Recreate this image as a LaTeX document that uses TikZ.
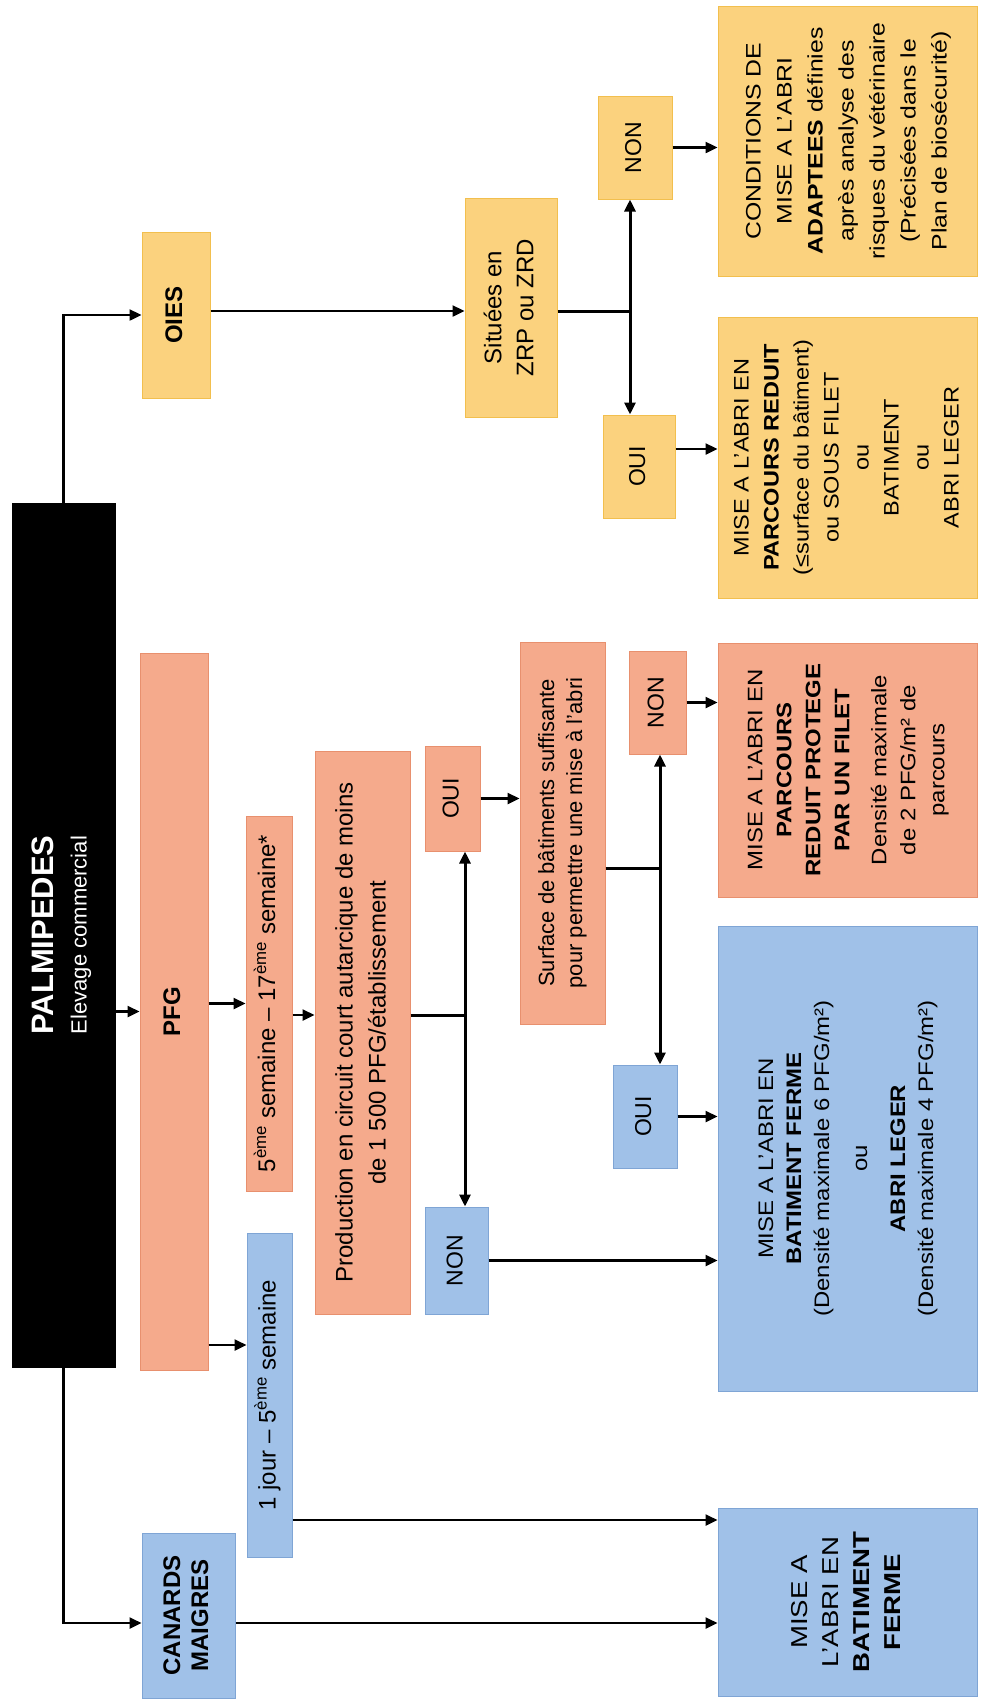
\documentclass[tikz,border=0pt]{standalone}
\usepackage{fontspec}
\setmainfont{Liberation Sans}
\usepackage{graphicx}
\usetikzlibrary{arrows.meta}
\definecolor{yf}{HTML}{FBD27E}
\definecolor{yd}{HTML}{F2BF4E}
\definecolor{of}{HTML}{F5AA8C}
\definecolor{od}{HTML}{E8906E}
\definecolor{bf}{HTML}{A0C1E8}
\definecolor{bd}{HTML}{7FA5D5}
\newcommand{\vt}[3][1]{\rotatebox{90}{\scalebox{#1}[1]{#2\begin{tabular}{@{}c@{}}#3\end{tabular}}}}
\newcommand{\bx}[7]{\node[#6, minimum width={(#4-#2)*1pt}, minimum height={(#5-#3)*1pt}] (#1) at ({(#2+#4)/2},{(#3+#5)/2}) {#7};}
\newcommand{\fs}[2]{\fontsize{#1}{#2}\selectfont}
\begin{document}
\begin{tikzpicture}[x=1pt,y=-1pt,
  base/.style={rectangle, inner sep=0pt, line width=1pt, text=black},
  ybox/.style={base, fill=yf, draw=yd},
  obox/.style={base, fill=of, draw=od},
  bbox/.style={base, fill=bf, draw=bd},
  kbox/.style={base, fill=black, draw=black, text=white},
  ln/.style={line width=2.4pt, black},
  tip/.tip={Triangle[length=12pt,width=11pt]},
  arr/.style={ln, -tip},
  arr2/.style={ln, line width=3pt, tip-tip},
  jl/.style={ln, line width=3pt}]
\useasboundingbox (0,0) rectangle (981,1701);
\fill[white] (0,0) rectangle (981,1701);

% column 1
\bx{pal}{12}{503}{115}{1367}{kbox}{\vt{\fs{22}{33}}{{\fs{31}{36}\bfseries PALMIPEDES}\\ Elevage commercial}}
\bx{oies}{142}{232}{210}{398}{ybox}{\vt{\fs{24}{30}\bfseries}{OIES}}
\bx{pfg}{140}{653}{208}{1370}{obox}{\vt{\fs{24}{30}\bfseries}{PFG}}
\bx{can}{142}{1533}{235}{1698}{bbox}{\vt{\fs{24}{28}\bfseries}{CANARDS\\MAIGRES}}

% PFG branch
\bx{s517}{246}{816}{292}{1191}{obox}{\vt{\fs{24}{30}}{5\textsuperscript{ème} semaine – 17\textsuperscript{ème} semaine*}}
\bx{j15}{247}{1233}{292}{1557}{bbox}{\vt{\fs{24}{30}}{1 jour – 5\textsuperscript{ème} semaine}}
\bx{prod}{315}{751}{410}{1314}{obox}{\vt{\fs{24}{33}}{Production en circuit court autarcique de moins\\de 1 500 PFG/établissement}}
\bx{oui1}{425}{746}{480}{851}{obox}{\vt{\fs{23}{30}}{OUI}}
\bx{non1}{425}{1207}{488}{1314}{bbox}{\vt{\fs{23}{30}}{NON}}
\bx{surf}{520}{642}{605}{1024}{obox}{\vt{\fs{22}{28}}{Surface de bâtiments suffisante\\pour permettre une mise à l'abri}}
\bx{non2}{629}{651}{686}{754}{obox}{\vt{\fs{23}{30}}{NON}}
\bx{oui2}{613}{1065}{677}{1168}{bbox}{\vt{\fs{23}{30}}{OUI}}
\bx{resO}{718}{643}{977}{897}{obox}{\vt[1.14]{\fs{21}{29}}{MISE A L'ABRI EN\\\textbf{PARCOURS}\\\textbf{REDUIT PROTEGE}\\\textbf{PAR UN FILET}\\[8pt] Densité maximale\\de 2 PFG/m² de\\parcours}}
\bx{resB}{718}{926}{977}{1391}{bbox}{\vt[1.14]{\fs{21}{28}}{MISE A L'ABRI EN\\\textbf{BATIMENT FERME}\\(Densité maximale 6 PFG/m²)\\[10pt] ou\\[10pt] \textbf{ABRI LEGER}\\(Densité maximale 4 PFG/m²)}}
\bx{resC}{718}{1508}{977}{1696}{bbox}{\vt[1.2]{\fs{23}{31}}{MISE A\\L'ABRI EN\\\textbf{BATIMENT}\\\textbf{FERME}}}

% OIES branch
\bx{sit}{465}{198}{557}{417}{ybox}{\vt{\fs{24}{32}}{Situées en\\ZRP ou ZRD}}
\bx{non3}{598}{96}{672}{199}{ybox}{\vt{\fs{23}{30}}{NON}}
\bx{oui3}{603}{415}{675}{518}{ybox}{\vt{\fs{23}{30}}{OUI}}
\bx{resY}{718}{317}{977}{598}{ybox}{\vt[1.12]{\fs{21}{30}}{MISE A L'ABRI EN\\\textbf{PARCOURS REDUIT}\\(≤surface du bâtiment)\\ou SOUS FILET\\ou\\BATIMENT\\ou\\ABRI LEGER}}
\bx{resY2}{718}{6}{977}{276}{ybox}{\vt[1.18]{\fs{21}{31}}{CONDITIONS DE\\MISE A L'ABRI\\\textbf{ADAPTEES} définies\\après analyse des\\risques du vétérinaire\\(Précisées dans le\\Plan de biosécurité)}}

% junction coordinates
\coordinate (jA) at (465,1015);
\coordinate (jB) at (660,868);
\coordinate (jC) at (630,311);
\coordinate (yj) at (0,1345);
\coordinate (yk) at (0,1520);
\coordinate (yl) at (0,1623);
\coordinate (ym) at (0,449);

% connectors
\draw[arr] (pal.north) |- (oies.west);
\draw[arr] (pal.south) |- (can.west |- yl);
\draw[arr] (pal.east |- pfg.west) -- (pfg.west);
\draw[arr] (pfg.east |- s517.west) -- (s517.west);
\draw[arr] (pfg.east |- yj) -- (j15.west |- yj);
\draw[arr] (s517.east |- jA) -- (prod.west |- jA);
\draw[jl] (prod.east |- jA) -- (jA);
\draw[arr2] (oui1.south -| jA) -- (non1.north -| jA);
\draw[arr] (oui1.east) -- (surf.west |- oui1.east);
\draw[jl] (surf.east |- jB) -- (jB);
\draw[arr2] (non2.south -| jB) -- (oui2.north -| jB);
\draw[arr] (non2.east) -- (resO.west |- non2.east);
\draw[arr] (oui2.east) -- (resB.west |- oui2.east);
\draw[arr] (non1.east) -- (resB.west |- non1.east);
\draw[arr] (j15.east |- yk) -- (resC.west |- yk);
\draw[arr] (can.east |- yl) -- (resC.west |- yl);
\draw[arr] (oies.east |- jC) -- (sit.west |- jC);
\draw[jl] (sit.east |- jC) -- (jC);
\draw[arr2] (non3.south -| jC) -- (oui3.north -| jC);
\draw[arr] (non3.east) -- (resY2.west |- non3.east);
\draw[arr] (oui3.east |- ym) -- (resY.west |- ym);
\end{tikzpicture}
\end{document}
